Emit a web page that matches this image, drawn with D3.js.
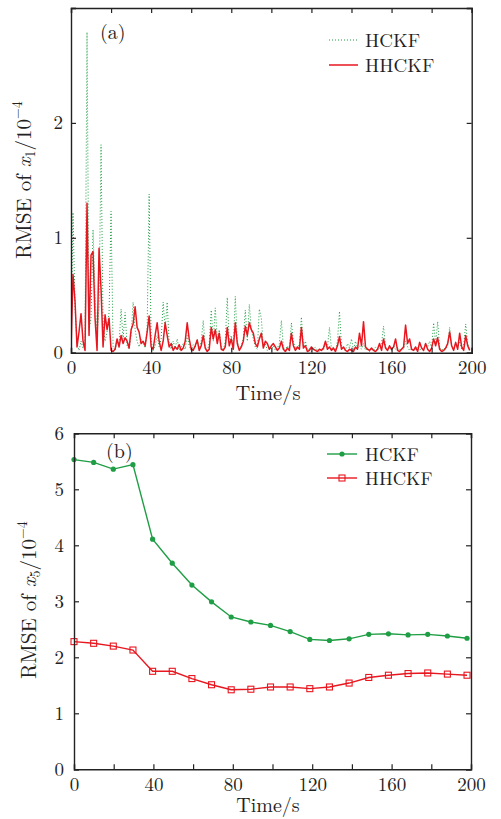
<!DOCTYPE html>
<html>
<head>
<meta charset="utf-8">
<script src="https://cdnjs.cloudflare.com/ajax/libs/d3/7.8.5/d3.min.js"></script>
<style>
    body { margin: 0; background: #fff; }
    .axis path, .axis line { stroke: #222; }
</style>
</head>
<body>
<svg id="chart" width="501" height="819"></svg>
<script>
// values in units of 1e-4, panel (a) sampled once per second from t = 0
var hckfA = [
    0.05, 1.22, 0.40, 0.08, 0.02, 0.10, 0.04, 0.12, 2.79, 0.20,
    0.30, 1.07, 0.50, 0.15, 0.40, 1.81, 0.25, 0.10, 0.18, 0.35,
    1.23, 0.05, 0.02, 0.10, 0.08, 0.38, 0.12, 0.35, 0.06, 0.03,
    0.15, 0.44, 0.20, 0.10, 0.05, 0.12, 0.08, 0.04, 0.20, 1.38,
    0.10, 0.02, 0.06, 0.15, 0.05, 0.12, 0.44, 0.20, 0.44, 0.08,
    0.03, 0.10, 0.04, 0.12, 0.02, 0.05, 0.08, 0.03, 0.15, 0.06,
    0.02, 0.07, 0.04, 0.12, 0.03, 0.10, 0.28, 0.05, 0.02, 0.08,
    0.37, 0.10, 0.39, 0.12, 0.20, 0.05, 0.02, 0.10, 0.48, 0.08,
    0.15, 0.05, 0.49, 0.10, 0.03, 0.06, 0.12, 0.37, 0.10, 0.42,
    0.20, 0.12, 0.05, 0.03, 0.38, 0.30, 0.05, 0.08, 0.02, 0.05,
    0.03, 0.06, 0.02, 0.04, 0.08, 0.28, 0.05, 0.02, 0.06, 0.03,
    0.26, 0.10, 0.04, 0.02, 0.08, 0.31, 0.05, 0.10, 0.02, 0.04,
    0.01, 0.03, 0.05, 0.02, 0.01, 0.04, 0.02, 0.08, 0.05, 0.22,
    0.03, 0.05, 0.02, 0.10, 0.36, 0.06, 0.03, 0.02, 0.08, 0.04,
    0.12, 0.02, 0.10, 0.04, 0.06, 0.03, 0.08, 0.02, 0.04, 0.01,
    0.03, 0.02, 0.05, 0.02, 0.04, 0.08, 0.23, 0.05, 0.02, 0.04,
    0.02, 0.06, 0.03, 0.05, 0.02, 0.04, 0.03, 0.10, 0.05, 0.02,
    0.04, 0.02, 0.03, 0.05, 0.02, 0.04, 0.03, 0.08, 0.05, 0.10,
    0.04, 0.26, 0.08, 0.27, 0.05, 0.02, 0.04, 0.03, 0.06, 0.22,
    0.05, 0.03, 0.08, 0.04, 0.10, 0.03, 0.06, 0.25, 0.08, 0.03
];
var hhckfA = [
    0.02, 0.68, 0.45, 0.05, 0.18, 0.34, 0.10, 0.02, 1.30, 0.15,
    0.85, 0.88, 0.30, 0.02, 0.91, 0.55, 0.05, 0.33, 0.20, 0.30,
    0.02, 0.01, 0.03, 0.12, 0.05, 0.15, 0.08, 0.13, 0.10, 0.04,
    0.20, 0.25, 0.40, 0.22, 0.18, 0.08, 0.10, 0.06, 0.18, 0.32,
    0.05, 0.03, 0.15, 0.26, 0.10, 0.02, 0.10, 0.26, 0.15, 0.05,
    0.08, 0.02, 0.05, 0.03, 0.07, 0.02, 0.04, 0.10, 0.26, 0.12,
    0.03, 0.02, 0.06, 0.11, 0.02, 0.06, 0.15, 0.04, 0.01, 0.03,
    0.22, 0.12, 0.20, 0.08, 0.17, 0.03, 0.02, 0.05, 0.22, 0.06,
    0.12, 0.03, 0.26, 0.08, 0.02, 0.05, 0.10, 0.23, 0.15, 0.26,
    0.20, 0.17, 0.08, 0.05, 0.12, 0.17, 0.04, 0.10, 0.08, 0.03,
    0.06, 0.08, 0.05, 0.02, 0.04, 0.10, 0.03, 0.01, 0.04, 0.02,
    0.17, 0.06, 0.02, 0.05, 0.03, 0.22, 0.04, 0.06, 0.01, 0.02,
    0.05, 0.03, 0.02, 0.01, 0.03, 0.02, 0.04, 0.10, 0.03, 0.05,
    0.02, 0.04, 0.01, 0.06, 0.14, 0.03, 0.05, 0.02, 0.01, 0.03,
    0.02, 0.01, 0.05, 0.03, 0.17, 0.06, 0.27, 0.05, 0.03, 0.02,
    0.04, 0.02, 0.01, 0.03, 0.08, 0.02, 0.12, 0.04, 0.02, 0.06,
    0.03, 0.05, 0.12, 0.02, 0.01, 0.03, 0.05, 0.24, 0.08, 0.12,
    0.03, 0.02, 0.05, 0.01, 0.09, 0.04, 0.02, 0.08, 0.03, 0.01,
    0.04, 0.12, 0.06, 0.13, 0.03, 0.01, 0.02, 0.04, 0.08, 0.18,
    0.06, 0.02, 0.09, 0.03, 0.17, 0.05, 0.02, 0.15, 0.06, 0.02
];

// panel (b)
var timesB = [0, 9.9, 19.8, 29.7, 39.6, 49.5, 59.4, 69.3, 79.2, 89.1, 99,
    108.9, 118.8, 128.7, 138.6, 148.5, 158.4, 168.3, 178.2, 188.1, 198];
var hckfB = [5.53, 5.48, 5.36, 5.44, 4.11, 3.68, 3.29, 2.99, 2.72, 2.63, 2.57,
    2.46, 2.32, 2.30, 2.33, 2.41, 2.42, 2.40, 2.41, 2.38, 2.34];
var hhckfB = [2.28, 2.25, 2.20, 2.13, 1.75, 1.75, 1.62, 1.51, 1.42, 1.43, 1.47,
    1.47, 1.44, 1.47, 1.54, 1.64, 1.68, 1.71, 1.72, 1.70, 1.68];

var xTicks = [0, 20, 40, 60, 80, 100, 120, 140, 160, 180, 200];
var seriesNames = ["HCKF", "HHCKF"];
var green = "#1f9e45";
var red = "#e8161f";
var FONT = "'Latin Modern Roman', 'CMU Serif', 'Liberation Serif', serif";

var svg = d3.select("#chart");

function drawFrame(g, x, y, yTicks, yLabelTicks, yPad) {
    var x0 = x.range()[0], x1 = x.range()[1];
    var y0 = y.range()[0], y1 = y.range()[1];
    var fmtX = function (d) { return d % 40 === 0 ? d : ""; };
    var fmtY = function (d) { return yLabelTicks.indexOf(d) >= 0 ? d : ""; };

    g.append("g").attr("class", "axis")
        .attr("transform", "translate(0," + y0 + ")")
        .call(d3.axisBottom(x).tickValues(xTicks).tickSize(-5).tickPadding(8).tickFormat(fmtX));
    g.append("g").attr("class", "axis")
        .attr("transform", "translate(0," + y1 + ")")
        .call(d3.axisTop(x).tickValues(xTicks).tickSize(-5).tickFormat(""));
    g.append("g").attr("class", "axis")
        .attr("transform", "translate(" + x0 + ",0)")
        .call(d3.axisLeft(y).tickValues(yTicks).tickSize(-5).tickPadding(yPad).tickFormat(fmtY));
    g.append("g").attr("class", "axis")
        .attr("transform", "translate(" + x1 + ",0)")
        .call(d3.axisRight(y).tickValues(yTicks).tickSize(-5).tickFormat(""));

    g.selectAll(".axis .domain").style("stroke-width", 1.4);
    g.selectAll(".axis line").style("stroke-width", 1.2);
    g.selectAll(".axis text")
        .style("font-size", "19px")
        .style("fill", "#222");
}

function yTitle(g, cx, cy, sub) {
    var t = g.append("text")
        .attr("transform", "translate(" + cx + "," + cy + ") rotate(-90)")
        .attr("text-anchor", "middle")
        .style("font-size", "21px");
    t.append("tspan").text("RMSE of ");
    t.append("tspan").style("font-style", "italic").text("x");
    t.append("tspan").attr("dy", 4).style("font-size", "14px").text(sub);
    t.append("tspan").attr("dy", -4).text("/10");
    t.append("tspan").attr("dy", -9).style("font-size", "14px").text("\u22124");
}

// ---------- panel (a)
var gA = svg.append("g");
var xA = d3.scaleLinear().domain([0, 200]).range([71, 471.7]);
var yA = d3.scaleLinear().domain([0, 3]).range([352.7, 8]);

gA.append("clipPath").attr("id", "clipA")
    .append("rect")
    .attr("x", xA(0)).attr("y", yA(3))
    .attr("width", xA(200) - xA(0)).attr("height", yA(0) - yA(3));

var lineA = d3.line()
    .x(function (d, i) { return xA(i); })
    .y(function (d) { return yA(d); });

gA.append("path")
    .datum(hckfA)
    .attr("clip-path", "url(#clipA)")
    .attr("d", lineA)
    .style("fill", "none")
    .style("stroke", green)
    .style("stroke-width", 1)
    .style("stroke-dasharray", "1,2");

gA.append("path")
    .datum(hhckfA)
    .attr("clip-path", "url(#clipA)")
    .attr("d", lineA)
    .style("fill", "none")
    .style("stroke", red)
    .style("stroke-width", 1.5)
    .style("stroke-linejoin", "round");

drawFrame(gA, xA, yA, [0, 1, 2, 3], [0, 1, 2], 8);

gA.append("text").attr("x", 100).attr("y", 39).style("font-size", "20px").text("(a)");
gA.append("text").attr("x", 268).attr("y", 400).attr("text-anchor", "middle")
    .style("font-size", "20.5px").text("Time/s");
yTitle(gA, 31, 180, "1");

var legA = gA.selectAll(".legA").data(seriesNames).enter().append("g")
    .attr("transform", function (d, i) { return "translate(329," + (40 + i * 25) + ")"; });
legA.append("line")
    .attr("x1", 0).attr("x2", 29).attr("y1", 0).attr("y2", 0)
    .style("stroke", function (d, i) { return i === 0 ? green : red; })
    .style("stroke-width", function (d, i) { return i === 0 ? 1 : 1.5; })
    .style("stroke-dasharray", function (d, i) { return i === 0 ? "1,2" : null; });
legA.append("text").attr("x", 36).attr("y", 7)
    .style("font-size", "19px").text(function (d) { return d; });

// ---------- panel (b)
var gB = svg.append("g");
var xB = d3.scaleLinear().domain([0, 200]).range([74, 471]);
var yB = d3.scaleLinear().domain([0, 6]).range([769.3, 433.3]);

var lineB = function (vals) {
    return d3.line()
        .x(function (d, i) { return xB(timesB[i]); })
        .y(function (d) { return yB(d); })(vals);
};

gB.append("path").attr("d", lineB(hckfB))
    .style("fill", "none").style("stroke", green).style("stroke-width", 1.4);
gB.append("path").attr("d", lineB(hhckfB))
    .style("fill", "none").style("stroke", red).style("stroke-width", 1.4);

gB.selectAll(".dotG").data(hckfB).enter().append("circle")
    .attr("cx", function (d, i) { return xB(timesB[i]); })
    .attr("cy", function (d) { return yB(d); })
    .attr("r", 2.6)
    .style("fill", green);

gB.selectAll(".sqR").data(hhckfB).enter().append("rect")
    .attr("x", function (d, i) { return xB(timesB[i]) - 3; })
    .attr("y", function (d) { return yB(d) - 3; })
    .attr("width", 6).attr("height", 6)
    .style("fill", "none").style("stroke", red).style("stroke-width", 1.1);

drawFrame(gB, xB, yB, [0, 1, 2, 3, 4, 5, 6], [0, 1, 2, 3, 4, 5, 6], 10);

gB.append("text").attr("x", 106).attr("y", 458).style("font-size", "20px").text("(b)");
gB.append("text").attr("x", 268).attr("y", 812).attr("text-anchor", "middle")
    .style("font-size", "20px").text("Time/s");
yTitle(gB, 36, 600, "5");

var legB = gB.selectAll(".legB").data(seriesNames).enter().append("g")
    .attr("transform", function (d, i) { return "translate(327," + (454 + i * 24) + ")"; });
legB.append("line")
    .attr("x1", 0).attr("x2", 30).attr("y1", 0).attr("y2", 0)
    .style("stroke", function (d, i) { return i === 0 ? green : red; })
    .style("stroke-width", 1.4);
legB.append("circle").filter(function (d, i) { return i === 0; })
    .attr("cx", 15).attr("cy", 0).attr("r", 2.6).style("fill", green);
legB.filter(function (d, i) { return i === 1; }).append("rect")
    .attr("x", 12).attr("y", -3).attr("width", 6).attr("height", 6)
    .style("fill", "none").style("stroke", red).style("stroke-width", 1.1);
legB.append("text").attr("x", 38).attr("y", 7)
    .style("font-size", "18.5px").text(function (d) { return d; });

// one serif face for every label, ticks included
svg.selectAll("text")
    .style("font-family", FONT)
    .style("fill", "#222");
</script>
</body>
</html>
